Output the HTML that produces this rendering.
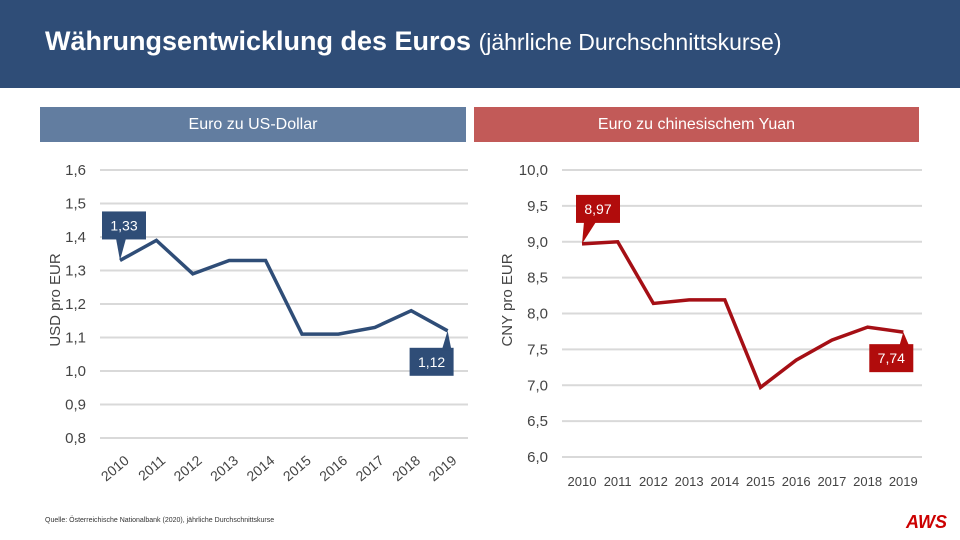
<!DOCTYPE html>
<html><head><meta charset="utf-8"><style>
body{margin:0;width:960px;height:540px;background:#fff;font-family:"Liberation Sans",sans-serif;overflow:hidden;position:relative}
.hdr{position:absolute;left:0;top:0;width:960px;height:88px;background:#2f4d77}
.hdr h1{position:absolute;left:45px;top:26px;margin:0;color:#fff;font-size:27px;font-weight:bold}
.hdr h1 span{font-weight:normal;font-size:23px}
.sub{position:absolute;top:107px;height:35px;color:#fff;font-size:16px;line-height:35px;text-align:center}
</style></head><body>
<div class="hdr"><h1>Währungsentwicklung des Euros <span>(jährliche Durchschnittskurse)</span></h1></div>
<div class="sub" style="left:40px;width:426px;background:#627da0">Euro zu US-Dollar</div>
<div class="sub" style="left:474px;width:445px;background:#c25a58">Euro zu chinesischem Yuan</div>
<svg id="c" width="960" height="540" style="position:absolute;left:0;top:0"></svg>
<div style="position:absolute;left:45px;top:517px;font-size:7px;color:#333">Quelle: Österreichische Nationalbank (2020), jährliche Durchschnittskurse</div>
<div style="position:absolute;left:906px;top:512px;font-size:18px;font-weight:bold;font-style:italic;color:#c00">AWS</div>
<script>
const years=["2010","2011","2012","2013","2014","2015","2016","2017","2018","2019"];
const usd=[1.33,1.39,1.29,1.33,1.33,1.11,1.11,1.13,1.18,1.12];
const cny=[8.97,9.00,8.14,8.19,8.19,6.97,7.35,7.63,7.81,7.74];
const usdTicks=[0.8,0.9,1.0,1.1,1.2,1.3,1.4,1.5,1.6];
const cnyTicks=[6.0,6.5,7.0,7.5,8.0,8.5,9.0,9.5,10.0];
const svg=document.getElementById('c');
const NS='http://www.w3.org/2000/svg';
function mk(t,a,txt){const e=document.createElementNS(NS,t);for(const k in a)e.setAttribute(k,a[k]);if(txt!==undefined)e.textContent=txt;svg.appendChild(e);return e;}
function fmt(v,d){return v.toFixed(d).replace('.',',');}
function chart(o){
 const y=v=>o.y0+(v-o.vmin)/(o.vmax-o.vmin)*(o.y1-o.y0);
 const x=i=>o.x0+i*o.dx;
 o.ticks.forEach(t=>{
  const g=mk('line',{x1:o.gx0,x2:o.gx1,y1:y(t),y2:y(t),stroke:'#d9d9d9','stroke-width':2});
  
  const l=mk('text',{x:o.tx,y:y(t)+5,'text-anchor':'end','font-size':15,fill:'#444','font-family':'Liberation Sans,sans-serif'},fmt(t,o.td));
  
 });
 const p=mk('polyline',{points:o.vals.map((v,i)=>x(i)+','+y(v)).join(' '),fill:'none',stroke:o.col,'stroke-width':3.5,'stroke-linejoin':'miter'});
 
 years.forEach((yr,i)=>{
  let t;
  if(o.rot){t=mk('text',{x:x(i)+10,y:o.xy,'text-anchor':'end','font-size':14,fill:'#444',transform:`rotate(-40 ${x(i)+10} ${o.xy})`},yr);}
  else{t=mk('text',{x:x(i),y:o.xy,'text-anchor':'middle','font-size':13,fill:'#444'},yr);}
  
 });
 const at=mk('text',{x:0,y:0,'font-size':15,fill:'#444','text-anchor':'middle',transform:`translate(${o.ax},${o.ay}) rotate(-90)`},o.atitle);
 
 [[0,o.c0],[o.vals.length-1,o.c1]].forEach(([i,c])=>{
  const px=x(i),py=y(o.vals[i]);
  const r=mk('rect',{x:px+c.dx,y:py+c.dy,width:44,height:28,fill:o.lab});
  
  mk('polygon',{points:`${px},${py} ${px+c.tx1},${py+c.ty} ${px+c.tx2},${py+c.ty}`,fill:o.lab});
  const t=mk('text',{x:px+c.dx+22,y:py+c.dy+19,'text-anchor':'middle','font-size':14,fill:'#fff'},fmt(o.vals[i],2));
  
 });
}
chart({name:'usd',vals:usd,ticks:usdTicks,vmin:0.8,vmax:1.6,y0:438,y1:170,x0:120,dx:36.4,gx0:100,gx1:468,tx:86,td:1,col:'#2f4d77',lab:'#2f4d77',rot:true,xy:462,ax:60,ay:300,atitle:'USD pro EUR',
 c0:{dx:-18,dy:-49,tx1:-4,tx2:6,ty:-22},c1:{dx:-38,dy:17,tx1:-6,tx2:4,ty:20}});
chart({name:'cny',vals:cny,ticks:cnyTicks,vmin:6,vmax:10,y0:457,y1:170,x0:582,dx:35.7,gx0:562,gx1:922,tx:548,td:1,col:'#a50f15',lab:'#b10c0c',rot:false,xy:486,ax:512,ay:300,atitle:'CNY pro EUR',
 c0:{dx:-6,dy:-49,tx1:2,tx2:14,ty:-22},c1:{dx:-34,dy:12,tx1:-4,tx2:6,ty:14}});
</script>
</body></html>
